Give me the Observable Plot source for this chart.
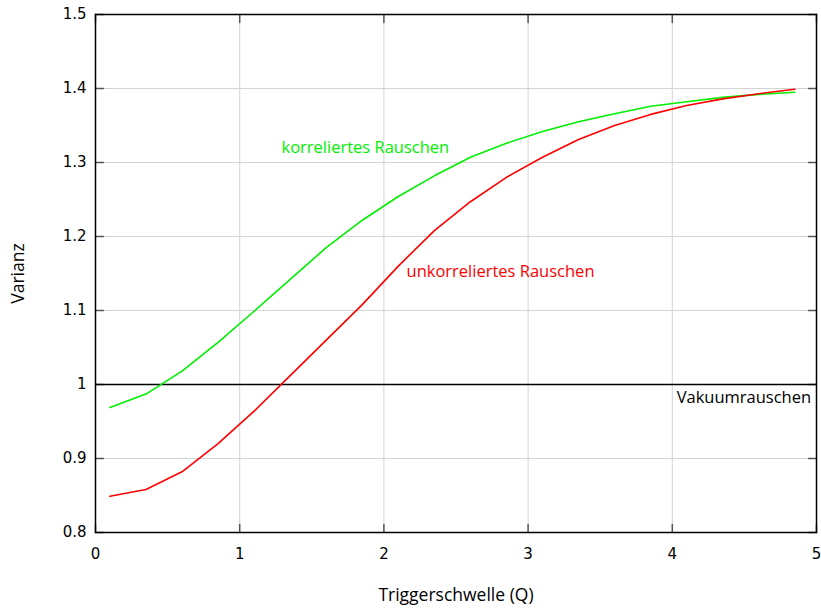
<!DOCTYPE html>
<html>
<head>
<meta charset="utf-8">
<script src="https://cdn.jsdelivr.net/npm/d3@7"></script>
<script src="https://cdn.jsdelivr.net/npm/@observablehq/plot@0.6"></script>
<style>
  body { margin: 0; background: #fff; }
  svg [aria-label="x-axis label"] text, svg [aria-label="y-axis label"] text { font-family: "Open Sans", sans-serif; font-size: 17.5px; }
</style>
</head>
<body>
<div id="chart"></div>
<script>
const thresholds = [0.1, 0.35, 0.6, 0.85, 1.1, 1.35, 1.6, 1.85, 2.1, 2.35, 2.6, 2.85, 3.1, 3.35, 3.6, 3.85, 4.1, 4.35, 4.6, 4.85];
const correlated = [0.969, 0.987, 1.018, 1.057, 1.099, 1.142, 1.185, 1.222, 1.254, 1.282, 1.307, 1.326, 1.342, 1.355, 1.366, 1.376, 1.382, 1.388, 1.392, 1.395];
const uncorrelated = [0.849, 0.858, 0.882, 0.920, 0.964, 1.012, 1.060, 1.108, 1.160, 1.208, 1.247, 1.280, 1.307, 1.331, 1.350, 1.365, 1.377, 1.386, 1.393, 1.399];
const vacuum = 1;
const xTicks = [0, 1, 2, 3, 4, 5];
const yTicks = [0.8, 0.9, 1, 1.1, 1.2, 1.3, 1.4, 1.5];
const labelTexts = ["korreliertes Rauschen", "unkorreliertes Rauschen", "Vakuumrauschen"];
const labelX = [1.29, 2.157, 4.03];
const labelY = [1.32, 1.153, 0.982];
const labelColors = ["#00f000", "#ff0000", "#000000"];

const greenData = thresholds.map((x, i) => ({x, y: correlated[i]}));
const redData = thresholds.map((x, i) => ({x, y: uncorrelated[i]}));
const labels = labelTexts.map((t, i) => ({t, x: labelX[i], y: labelY[i], c: labelColors[i]}));

const tickShapeV = {draw(ctx, l) { ctx.moveTo(0, 0); ctx.lineTo(0, -l); }};

const chart = Plot.plot({
  width: 821,
  height: 608,
  marginLeft: 95,
  marginRight: 5,
  marginTop: 14,
  marginBottom: 76,
  style: {fontFamily: "DejaVu Sans", fontSize: "15px", color: "#000", background: "#fff"},
  x: {domain: [0, 5]},
  y: {domain: [0.8, 1.5]},
  marks: [
    Plot.gridX(xTicks.slice(1, -1), {stroke: "#d4d4d4", strokeOpacity: 1, strokeWidth: 1}),
    Plot.gridY(yTicks.slice(1, -1), {stroke: "#d4d4d4", strokeOpacity: 1, strokeWidth: 1}),
    Plot.axisX(xTicks, {tickSize: 0, tickPadding: 16, fontSize: 15, label: "Triggerschwelle (Q)", labelAnchor: "center", labelOffset: 68, labelArrow: false, tickFormat: d => String(d)}),
    Plot.axisY(yTicks, {tickSize: 0, tickPadding: 9, fontSize: 15, label: "Varianz", labelAnchor: "center", labelOffset: 84, labelArrow: false, tickFormat: d => String(d)}),
    // inward tick marks
    Plot.vector(yTicks, {x: 0, y: d => d, rotate: 90, length: 8, anchor: "start", shape: tickShapeV, stroke: "#555", strokeWidth: 1.5}),
    Plot.vector(yTicks, {x: 5, y: d => d, rotate: -90, length: 8, anchor: "start", shape: tickShapeV, stroke: "#555", strokeWidth: 1.5}),
    Plot.vector(xTicks, {x: d => d, y: 0.8, rotate: 0, length: 8, anchor: "start", shape: tickShapeV, stroke: "#555", strokeWidth: 1.5}),
    Plot.vector(xTicks, {x: d => d, y: 1.5, rotate: 180, length: 8, anchor: "start", shape: tickShapeV, stroke: "#555", strokeWidth: 1.5}),
    Plot.ruleY([vacuum], {stroke: "#000", strokeWidth: 1.5}),
    Plot.line(greenData, {x: "x", y: "y", stroke: "#00f000", strokeWidth: 1.6}),
    Plot.line(redData, {x: "x", y: "y", stroke: "#ff0000", strokeWidth: 1.6}),
    Plot.text(labels, {x: "x", y: "y", text: "t", fill: "c", textAnchor: "start", fontSize: 16.5, fontFamily: "Open Sans"}),
    Plot.frame({stroke: "#000", strokeWidth: 1.5})
  ]
});
document.getElementById("chart").appendChild(chart);
</script>
</body>
</html>
